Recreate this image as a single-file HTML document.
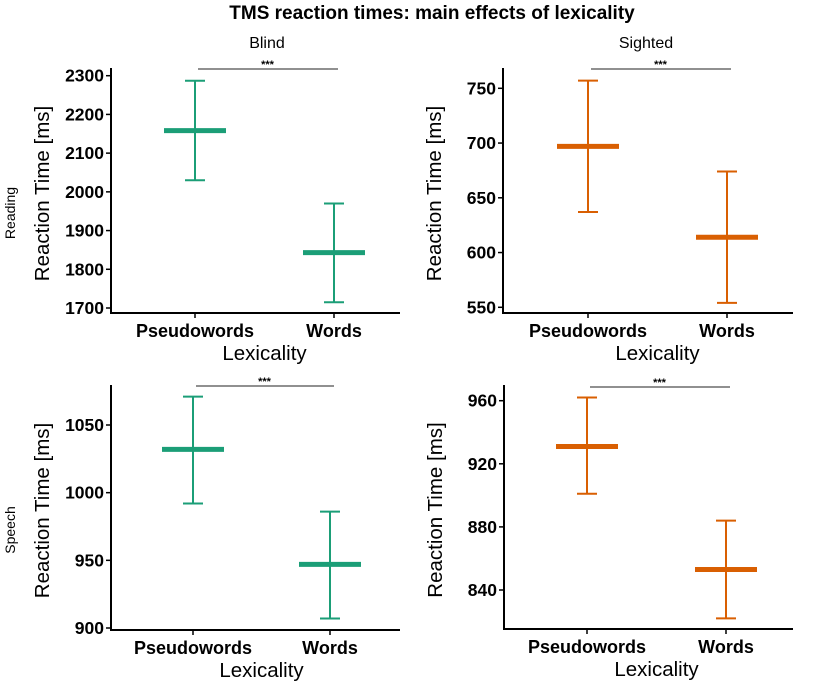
<!DOCTYPE html>
<html><head><meta charset="utf-8">
<style>
body{margin:0;background:#fff;}
svg{display:block;font-family:"Liberation Sans",Arial,sans-serif;}
</style></head>
<body>
<svg id="chart" width="814" height="682" viewBox="0 0 814 682">
<text x="432" y="19" text-anchor="middle" font-size="19" font-weight="bold">TMS reaction times: main effects of lexicality</text>
<text x="267" y="48" text-anchor="middle" font-size="16">Blind</text>
<text x="646" y="48" text-anchor="middle" font-size="16">Sighted</text>
<text transform="translate(15,213) rotate(-90)" text-anchor="middle" font-size="14">Reading</text>
<text transform="translate(15,530) rotate(-90)" text-anchor="middle" font-size="14">Speech</text>
</svg>
<script>
const categories = ["Pseudowords","Words"];
const blindReadingMean = [2158, 1843];
const blindReadingLow = [2030, 1715];
const blindReadingHigh = [2287, 1970];
const sightedReadingMean = [697, 614];
const sightedReadingLow = [637, 554];
const sightedReadingHigh = [757, 674];
const blindSpeechMean = [1032, 947];
const blindSpeechLow = [992, 907];
const blindSpeechHigh = [1071, 986];
const sightedSpeechMean = [931, 853];
const sightedSpeechLow = [901, 822];
const sightedSpeechHigh = [962, 884];
const blindReadingTicks = [1700,1800,1900,2000,2100,2200,2300];
const sightedReadingTicks = [550,600,650,700,750];
const blindSpeechTicks = [900,950,1000,1050];
const sightedSpeechTicks = [840,880,920,960];

const NS = "http://www.w3.org/2000/svg";
const svg = document.getElementById('chart');
function mk(tag, attrs, parent){const e=document.createElementNS(NS,tag);for(const k in attrs)e.setAttribute(k,attrs[k]);(parent||svg).appendChild(e);return e;}

const panels = [
 {id:'blind-reading', ax:111, top:68, bottom:313, right:400, x0:195, x1:334, v0:1700, y0:308, v1:2300, y1:75.7, sig:69, color:'#1b9e77', mean:blindReadingMean, low:blindReadingLow, high:blindReadingHigh, ticks:blindReadingTicks},
 {id:'sighted-reading', ax:503, top:68, bottom:313, right:793, x0:588, x1:727, v0:550, y0:307.3, v1:750, y1:88.3, sig:69, color:'#d95f02', mean:sightedReadingMean, low:sightedReadingLow, high:sightedReadingHigh, ticks:sightedReadingTicks},
 {id:'blind-speech', ax:111, top:385, bottom:630, right:400, x0:193, x1:330, v0:900, y0:628, v1:1050, y1:425, sig:386, color:'#1b9e77', mean:blindSpeechMean, low:blindSpeechLow, high:blindSpeechHigh, ticks:blindSpeechTicks},
 {id:'sighted-speech', ax:504, top:385, bottom:629, right:793, x0:587, x1:726, v0:840, y0:590, v1:960, y1:400.7, sig:387, color:'#d95f02', mean:sightedSpeechMean, low:sightedSpeechLow, high:sightedSpeechHigh, ticks:sightedSpeechTicks}
];

panels.forEach(p=>{
  const g = mk('g',{});
  
  
  const y = v => p.y0 + (v-p.v0)*(p.y1-p.y0)/(p.v1-p.v0);
  const xs = [p.x0,p.x1];
  const ya = mk('line',{x1:p.ax,y1:p.top,x2:p.ax,y2:p.bottom,stroke:'#000','stroke-width':2},g);
  
  
  const xa = mk('line',{x1:p.ax-1,y1:p.bottom,x2:p.right,y2:p.bottom,stroke:'#000','stroke-width':2},g);
  
  
  p.ticks.forEach(t=>{
    const ty=y(t);
    mk('line',{x1:p.ax-5,y1:ty,x2:p.ax,y2:ty,stroke:'#000','stroke-width':1.5},g);
    const tl = mk('text',{x:p.ax-7,y:ty+6,'text-anchor':'end','font-size':17.5,'font-weight':'bold'},g);
    tl.textContent=t;
    
    
  });
  categories.forEach((c,i)=>{
    mk('line',{x1:xs[i],y1:p.bottom,x2:xs[i],y2:p.bottom+5,stroke:'#000','stroke-width':1.5},g);
    const cl = mk('text',{x:xs[i],y:p.bottom+24,'text-anchor':'middle','font-size':18,'font-weight':'bold'},g);
    cl.textContent=c;
    
    
    const eb = mk('g',{stroke:p.color,'stroke-width':2},g);
    
    
    mk('line',{x1:xs[i],y1:y(p.low[i]),x2:xs[i],y2:y(p.high[i])},eb);
    mk('line',{x1:xs[i]-10,y1:y(p.low[i]),x2:xs[i]+10,y2:y(p.low[i])},eb);
    mk('line',{x1:xs[i]-10,y1:y(p.high[i]),x2:xs[i]+10,y2:y(p.high[i])},eb);
    const m = mk('line',{x1:xs[i]-31,y1:y(p.mean[i]),x2:xs[i]+31,y2:y(p.mean[i]),stroke:p.color,'stroke-width':5},g);
    
    
  });
  const sl = mk('line',{x1:p.x0+3,y1:p.sig,x2:p.x1+4,y2:p.sig,stroke:'#222','stroke-width':1},g);
  
  
  const st = mk('text',{x:(p.x0+p.x1)/2+3,y:p.sig-1,'text-anchor':'middle','font-size':11,'font-weight':'bold'},g);
  st.textContent='***';
  
  
  const yt = mk('text',{transform:`translate(${p.ax-62},${(p.top+p.bottom)/2+3}) rotate(-90)`,'text-anchor':'middle','font-size':20.5},g);
  yt.textContent='Reaction Time [ms]';
  
  
  const xt = mk('text',{x:(p.x0+p.x1)/2,y:p.bottom+47,'text-anchor':'middle','font-size':20.5},g);
  xt.textContent='Lexicality';
  
  
});
</script>
</body></html>
